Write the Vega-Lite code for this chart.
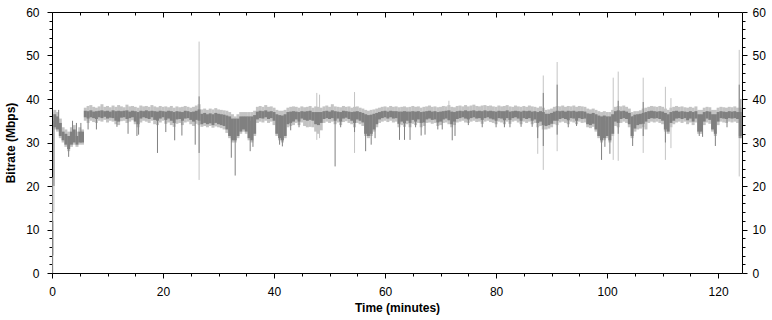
{
  "$schema": "https://vega.github.io/schema/vega-lite/v6.json",
  "width": 690,
  "height": 261,
  "autosize": {"type": "none"},
  "padding": {"left": 52, "top": 12, "right": 30, "bottom": 47},
  "background": "white",
  "config": {
    "view": {"stroke": null},
    "axis": {
      "grid": false,
      "domainColor": "black",
      "tickColor": "black",
      "labelColor": "black",
      "titleColor": "black",
      "labelFont": "Liberation Sans",
      "labelFontSize": 12,
      "titleFont": "Liberation Sans",
      "titleFontSize": 12,
      "titleFontWeight": "bold",
      "labelFlush": false,
      "labelOverlap": false
    }
  },
  "datasets": {
    "bands": [
      {"t":0.5,"a":33,"b":37.5,"c":33.5,"d":36.5},
      {"t":1.0,"a":32.5,"b":37,"c":33,"d":36},
      {"t":1.5,"a":31,"b":35.5,"c":31.5,"d":34.5},
      {"t":2.0,"a":30,"b":33.5,"c":30.5,"d":32.5},
      {"t":2.5,"a":29,"b":33,"c":29.5,"d":32},
      {"t":3.0,"a":28,"b":32.5,"c":28.5,"d":31.5},
      {"t":3.5,"a":29,"b":33.5,"c":29.5,"d":32.5},
      {"t":4.0,"a":29.5,"b":34,"c":30,"d":33},
      {"t":4.5,"a":29,"b":32.5,"c":29.5,"d":31.5},
      {"t":5.0,"a":29.5,"b":33.5,"c":30,"d":32.5},
      {"t":5.5,"a":29.5,"b":33,"c":30,"d":32.5},
      {"t":6.0,"a":35,"b":38,"c":35.8,"d":37.3},
      {"t":6.5,"a":34.5,"b":38.4,"c":35.5,"d":37.2},
      {"t":7.0,"a":35,"b":38.6,"c":35.8,"d":37.4},
      {"t":7.5,"a":34.7,"b":38.2,"c":35.6,"d":37.1},
      {"t":8.0,"a":34.5,"b":38,"c":35.4,"d":37.2},
      {"t":8.5,"a":35,"b":38.3,"c":35.8,"d":37.3},
      {"t":9.0,"a":34.8,"b":38.8,"c":35.6,"d":37.4},
      {"t":9.5,"a":35.2,"b":38.2,"c":35.9,"d":37.2},
      {"t":10.0,"a":34.6,"b":38.4,"c":35.5,"d":37.3},
      {"t":10.5,"a":35,"b":38.1,"c":35.7,"d":37.1},
      {"t":11.0,"a":34.8,"b":38.5,"c":35.6,"d":37.4},
      {"t":11.5,"a":34.2,"b":38.2,"c":35,"d":37.2},
      {"t":12.0,"a":34,"b":38.6,"c":34.8,"d":37.3},
      {"t":12.5,"a":34.9,"b":38.3,"c":35.7,"d":37.2},
      {"t":13.0,"a":35,"b":38.1,"c":35.8,"d":37.3},
      {"t":13.5,"a":34.5,"b":38.7,"c":35.4,"d":37.4},
      {"t":14.0,"a":34.8,"b":38.3,"c":35.6,"d":37.1},
      {"t":14.5,"a":35.1,"b":38.4,"c":35.8,"d":37.3},
      {"t":15.0,"a":34.2,"b":38.2,"c":34.8,"d":37.2},
      {"t":15.5,"a":33.5,"b":38,"c":34.2,"d":37},
      {"t":16.0,"a":34.6,"b":38.5,"c":35.5,"d":37.3},
      {"t":16.5,"a":35,"b":38.3,"c":35.8,"d":37.2},
      {"t":17.0,"a":34.8,"b":38.4,"c":35.6,"d":37.4},
      {"t":17.5,"a":34.5,"b":38.2,"c":35.4,"d":37.2},
      {"t":18.0,"a":35,"b":38.6,"c":35.8,"d":37.3},
      {"t":18.5,"a":34.2,"b":38.3,"c":35.2,"d":37.2},
      {"t":19.0,"a":34,"b":38.1,"c":35,"d":37.1},
      {"t":19.5,"a":34.6,"b":38.4,"c":35.5,"d":37.3},
      {"t":20.0,"a":35,"b":38.2,"c":35.8,"d":37.2},
      {"t":20.5,"a":34.3,"b":38.3,"c":35.2,"d":37.1},
      {"t":21.0,"a":34.6,"b":38.1,"c":35.5,"d":37.3},
      {"t":21.5,"a":34,"b":38.4,"c":35,"d":37.2},
      {"t":22.0,"a":33.6,"b":38,"c":34.5,"d":37},
      {"t":22.5,"a":34.3,"b":38.3,"c":35.3,"d":37.2},
      {"t":23.0,"a":34.5,"b":38.1,"c":35.4,"d":37.1},
      {"t":23.5,"a":34,"b":38.2,"c":35,"d":37},
      {"t":24.0,"a":34.6,"b":38.4,"c":35.5,"d":37.3},
      {"t":24.5,"a":34.8,"b":38.2,"c":35.6,"d":37.2},
      {"t":25.0,"a":34.2,"b":38,"c":35.2,"d":37},
      {"t":25.5,"a":33.8,"b":38.2,"c":34.8,"d":37.1},
      {"t":26.0,"a":34.3,"b":38.5,"c":35.2,"d":37.3},
      {"t":26.5,"a":34,"b":38.8,"c":35,"d":37.6},
      {"t":27.0,"a":33.6,"b":37.6,"c":34.2,"d":36.6},
      {"t":27.5,"a":33.8,"b":37.8,"c":34.5,"d":36.8},
      {"t":28.0,"a":33.5,"b":37.5,"c":34.2,"d":36.5},
      {"t":28.5,"a":33.8,"b":37.8,"c":34.4,"d":36.7},
      {"t":29.0,"a":33.4,"b":37.6,"c":34,"d":36.5},
      {"t":29.5,"a":33.7,"b":37.9,"c":34.5,"d":36.8},
      {"t":30.0,"a":33.5,"b":37.6,"c":34.2,"d":36.6},
      {"t":30.5,"a":33.3,"b":37.5,"c":34,"d":36.5},
      {"t":31.0,"a":33,"b":37.4,"c":33.8,"d":36.4},
      {"t":31.5,"a":32.2,"b":37.3,"c":33,"d":36.2},
      {"t":32.0,"a":31,"b":37,"c":31.5,"d":36},
      {"t":32.5,"a":30,"b":36.5,"c":30.5,"d":35.5},
      {"t":33.0,"a":30,"b":36,"c":30.5,"d":35.5},
      {"t":33.5,"a":31,"b":36.5,"c":31.5,"d":35.5},
      {"t":34.0,"a":32,"b":37,"c":32.5,"d":36},
      {"t":34.5,"a":32.5,"b":37,"c":33,"d":36},
      {"t":35.0,"a":32,"b":37,"c":32.5,"d":36},
      {"t":35.5,"a":30.5,"b":37,"c":31,"d":36},
      {"t":36.0,"a":30,"b":37,"c":30.5,"d":36},
      {"t":36.5,"a":31.5,"b":37.3,"c":32,"d":36.3},
      {"t":37.0,"a":34.5,"b":38.2,"c":35.3,"d":37.1},
      {"t":37.5,"a":34.8,"b":38.4,"c":35.6,"d":37.3},
      {"t":38.0,"a":34.6,"b":38.2,"c":35.5,"d":37.2},
      {"t":38.5,"a":35,"b":38.6,"c":35.8,"d":37.4},
      {"t":39.0,"a":34.5,"b":38.2,"c":35.4,"d":37.1},
      {"t":39.5,"a":34.8,"b":38.3,"c":35.6,"d":37.2},
      {"t":40.0,"a":34,"b":38,"c":35,"d":37},
      {"t":40.5,"a":31.5,"b":37.5,"c":32,"d":36.5},
      {"t":41.0,"a":30.5,"b":37.3,"c":31,"d":36.3},
      {"t":41.5,"a":30,"b":37.3,"c":30.5,"d":36.2},
      {"t":42.0,"a":31,"b":37.5,"c":31.5,"d":36.5},
      {"t":42.5,"a":33.5,"b":38,"c":34.2,"d":37},
      {"t":43.0,"a":33.8,"b":38.2,"c":34.5,"d":37.1},
      {"t":43.5,"a":34,"b":38.3,"c":34.8,"d":37.2},
      {"t":44.0,"a":34.5,"b":38.2,"c":35.3,"d":37.1},
      {"t":44.5,"a":34,"b":38,"c":34.8,"d":37},
      {"t":45.0,"a":34.6,"b":38.3,"c":35.5,"d":37.2},
      {"t":45.5,"a":33.8,"b":38.1,"c":35.2,"d":37.1},
      {"t":46.0,"a":33.5,"b":38.2,"c":35,"d":37.2},
      {"t":46.5,"a":33.6,"b":38.4,"c":35.2,"d":37.3},
      {"t":47.0,"a":33.5,"b":38,"c":35,"d":37},
      {"t":47.5,"a":32.5,"b":38.3,"c":34.2,"d":37},
      {"t":48.0,"a":32,"b":38.2,"c":34,"d":37},
      {"t":48.5,"a":32.8,"b":38,"c":34.5,"d":37},
      {"t":49.0,"a":34.5,"b":38.3,"c":35.4,"d":37.2},
      {"t":49.5,"a":34.8,"b":38.5,"c":35.6,"d":37.3},
      {"t":50.0,"a":34.5,"b":38.2,"c":35.4,"d":37.1},
      {"t":50.5,"a":34.8,"b":38.8,"c":35.6,"d":37.4},
      {"t":51.0,"a":34.2,"b":38.3,"c":35,"d":37.2},
      {"t":51.5,"a":34.6,"b":38.2,"c":35.5,"d":37.1},
      {"t":52.0,"a":34,"b":38.1,"c":34.8,"d":37},
      {"t":52.5,"a":34.7,"b":38.4,"c":35.5,"d":37.3},
      {"t":53.0,"a":34.9,"b":38.2,"c":35.7,"d":37.2},
      {"t":53.5,"a":34.5,"b":38.3,"c":35.4,"d":37.1},
      {"t":54.0,"a":34.2,"b":38,"c":35,"d":37},
      {"t":54.5,"a":33.5,"b":38.2,"c":34.5,"d":37.1},
      {"t":55.0,"a":34.5,"b":38.3,"c":35.3,"d":37.2},
      {"t":55.5,"a":34.2,"b":38,"c":35,"d":37},
      {"t":56.0,"a":33.8,"b":37.8,"c":34.6,"d":36.8},
      {"t":56.5,"a":31.5,"b":37.5,"c":32,"d":36.5},
      {"t":57.0,"a":31,"b":37.3,"c":31.5,"d":36.3},
      {"t":57.5,"a":31.5,"b":37.5,"c":32,"d":36.4},
      {"t":58.0,"a":32.5,"b":37.6,"c":33,"d":36.6},
      {"t":58.5,"a":33.5,"b":37.8,"c":34.2,"d":36.8},
      {"t":59.0,"a":34.5,"b":38,"c":35.3,"d":37},
      {"t":59.5,"a":34.8,"b":38.2,"c":35.6,"d":37.2},
      {"t":60.0,"a":35,"b":38.3,"c":35.8,"d":37.3},
      {"t":60.5,"a":34.7,"b":38.1,"c":35.5,"d":37.1},
      {"t":61.0,"a":35,"b":38.4,"c":35.8,"d":37.3},
      {"t":61.5,"a":34.6,"b":38.2,"c":35.5,"d":37.2},
      {"t":62.0,"a":34.8,"b":38.3,"c":35.6,"d":37.2},
      {"t":62.5,"a":33.5,"b":38.1,"c":34.3,"d":37.1},
      {"t":63.0,"a":34,"b":38.2,"c":34.8,"d":37.1},
      {"t":63.5,"a":33.6,"b":38.3,"c":34.4,"d":37.2},
      {"t":64.0,"a":34.2,"b":38.1,"c":35,"d":37.1},
      {"t":64.5,"a":33.5,"b":38.2,"c":34.5,"d":37.1},
      {"t":65.0,"a":34.3,"b":38.4,"c":35.2,"d":37.2},
      {"t":65.5,"a":34,"b":38.2,"c":34.8,"d":37.1},
      {"t":66.0,"a":34.5,"b":38.3,"c":35.3,"d":37.2},
      {"t":66.5,"a":33.5,"b":38,"c":34.5,"d":37},
      {"t":67.0,"a":33.8,"b":38.2,"c":34.6,"d":37.1},
      {"t":67.5,"a":34.5,"b":38.3,"c":35.3,"d":37.2},
      {"t":68.0,"a":34.6,"b":38.5,"c":35.5,"d":37.3},
      {"t":68.5,"a":34.3,"b":38.2,"c":35.2,"d":37.1},
      {"t":69.0,"a":34.5,"b":38.3,"c":35.3,"d":37.2},
      {"t":69.5,"a":33.8,"b":38.1,"c":34.6,"d":37},
      {"t":70.0,"a":34,"b":38.2,"c":34.8,"d":37.1},
      {"t":70.5,"a":34.5,"b":38.4,"c":35.3,"d":37.2},
      {"t":71.0,"a":34.6,"b":38.3,"c":35.5,"d":37.3},
      {"t":71.5,"a":34.2,"b":38.6,"c":35.1,"d":37.4},
      {"t":72.0,"a":33.5,"b":38.2,"c":34.2,"d":37.1},
      {"t":72.5,"a":34,"b":38.1,"c":34.8,"d":37},
      {"t":73.0,"a":34.6,"b":38.4,"c":35.4,"d":37.2},
      {"t":73.5,"a":34.8,"b":38.5,"c":35.6,"d":37.3},
      {"t":74.0,"a":35,"b":38.3,"c":35.8,"d":37.2},
      {"t":74.5,"a":34.6,"b":38.6,"c":35.5,"d":37.4},
      {"t":75.0,"a":34.5,"b":38.3,"c":35.3,"d":37.2},
      {"t":75.5,"a":34.8,"b":38.5,"c":35.6,"d":37.3},
      {"t":76.0,"a":35,"b":38.7,"c":35.8,"d":37.4},
      {"t":76.5,"a":34.7,"b":38.4,"c":35.5,"d":37.2},
      {"t":77.0,"a":34.8,"b":38.3,"c":35.6,"d":37.3},
      {"t":77.5,"a":34.3,"b":38.5,"c":35.2,"d":37.2},
      {"t":78.0,"a":34.8,"b":38.6,"c":35.6,"d":37.4},
      {"t":78.5,"a":35,"b":38.4,"c":35.8,"d":37.2},
      {"t":79.0,"a":34.7,"b":38.5,"c":35.5,"d":37.3},
      {"t":79.5,"a":34.5,"b":38.3,"c":35.3,"d":37.2},
      {"t":80.0,"a":34.2,"b":38.2,"c":35,"d":37.1},
      {"t":80.5,"a":34.8,"b":38.5,"c":35.6,"d":37.3},
      {"t":81.0,"a":34.6,"b":38.3,"c":35.5,"d":37.2},
      {"t":81.5,"a":34.2,"b":38.4,"c":35.1,"d":37.2},
      {"t":82.0,"a":34.8,"b":38.6,"c":35.6,"d":37.4},
      {"t":82.5,"a":34.3,"b":38.3,"c":35.2,"d":37.1},
      {"t":83.0,"a":34.8,"b":38.2,"c":35.6,"d":37.2},
      {"t":83.5,"a":35,"b":38.5,"c":35.8,"d":37.3},
      {"t":84.0,"a":34.6,"b":38.3,"c":35.5,"d":37.2},
      {"t":84.5,"a":34.2,"b":38.2,"c":35,"d":37.1},
      {"t":85.0,"a":34.8,"b":38.4,"c":35.6,"d":37.3},
      {"t":85.5,"a":34.5,"b":38.2,"c":35.4,"d":37.2},
      {"t":86.0,"a":34.8,"b":38.5,"c":35.6,"d":37.3},
      {"t":86.5,"a":34.2,"b":38.3,"c":35,"d":37.1},
      {"t":87.0,"a":34.5,"b":38.2,"c":35.3,"d":37.2},
      {"t":87.5,"a":33.5,"b":38,"c":34.5,"d":37},
      {"t":88.0,"a":33.8,"b":38.3,"c":34.8,"d":37.2},
      {"t":88.5,"a":33,"b":38,"c":34,"d":37},
      {"t":89.0,"a":33,"b":37.5,"c":33.8,"d":36.6},
      {"t":89.5,"a":33.2,"b":37.6,"c":34,"d":36.6},
      {"t":90.0,"a":33.5,"b":37.8,"c":34.3,"d":36.8},
      {"t":90.5,"a":34.2,"b":38.2,"c":35,"d":37.1},
      {"t":91.0,"a":34,"b":38.4,"c":35,"d":37.3},
      {"t":91.5,"a":34.6,"b":38.3,"c":35.4,"d":37.2},
      {"t":92.0,"a":34.8,"b":38.5,"c":35.6,"d":37.3},
      {"t":92.5,"a":34.5,"b":38.2,"c":35.4,"d":37.1},
      {"t":93.0,"a":34.2,"b":38.4,"c":35.1,"d":37.3},
      {"t":93.5,"a":34.8,"b":38.3,"c":35.6,"d":37.2},
      {"t":94.0,"a":34.6,"b":38.5,"c":35.5,"d":37.3},
      {"t":94.5,"a":34.2,"b":38.2,"c":35,"d":37.1},
      {"t":95.0,"a":34.8,"b":38.4,"c":35.6,"d":37.2},
      {"t":95.5,"a":34.5,"b":38.3,"c":35.4,"d":37.2},
      {"t":96.0,"a":34.6,"b":38.2,"c":35.5,"d":37.1},
      {"t":96.5,"a":33.5,"b":37.8,"c":34.2,"d":36.7},
      {"t":97.0,"a":33.3,"b":37.6,"c":34,"d":36.6},
      {"t":97.5,"a":33.6,"b":37.8,"c":34.3,"d":36.8},
      {"t":98.0,"a":32.5,"b":37.5,"c":33,"d":36.5},
      {"t":98.5,"a":31,"b":37.2,"c":31.5,"d":36.2},
      {"t":99.0,"a":30,"b":37,"c":30.5,"d":36},
      {"t":99.5,"a":30.5,"b":37.2,"c":31,"d":36.2},
      {"t":100.0,"a":31,"b":37,"c":31.5,"d":36},
      {"t":100.5,"a":30,"b":37,"c":30.5,"d":36},
      {"t":101.0,"a":31.5,"b":37.5,"c":32,"d":36.5},
      {"t":101.5,"a":33.8,"b":38.2,"c":34.8,"d":37.2},
      {"t":102.0,"a":33.5,"b":38.4,"c":34.5,"d":37.4},
      {"t":102.5,"a":34.5,"b":38.3,"c":35.4,"d":37.2},
      {"t":103.0,"a":34.8,"b":38.5,"c":35.6,"d":37.3},
      {"t":103.5,"a":34.5,"b":38.2,"c":35.4,"d":37.1},
      {"t":104.0,"a":33.5,"b":37.8,"c":34.2,"d":36.8},
      {"t":104.5,"a":31,"b":37,"c":31.5,"d":36},
      {"t":105.0,"a":32.5,"b":37.2,"c":33.2,"d":36.4},
      {"t":105.5,"a":33,"b":37.2,"c":34,"d":36.5},
      {"t":106.0,"a":33.2,"b":37.4,"c":34.2,"d":36.6},
      {"t":106.5,"a":33.5,"b":37.8,"c":34.3,"d":36.8},
      {"t":107.0,"a":33,"b":38,"c":34.8,"d":37},
      {"t":107.5,"a":34.5,"b":38.2,"c":35.4,"d":37.2},
      {"t":108.0,"a":34.8,"b":38.4,"c":35.6,"d":37.3},
      {"t":108.5,"a":34.6,"b":38.3,"c":35.5,"d":37.2},
      {"t":109.0,"a":34.8,"b":38.2,"c":35.6,"d":37.1},
      {"t":109.5,"a":34.5,"b":38.4,"c":35.4,"d":37.2},
      {"t":110.0,"a":34.2,"b":38.2,"c":35,"d":37.1},
      {"t":110.5,"a":32.5,"b":37.8,"c":33,"d":36.8},
      {"t":111.0,"a":32,"b":37.5,"c":32.5,"d":36.5},
      {"t":111.5,"a":33.5,"b":38,"c":34.5,"d":37},
      {"t":112.0,"a":34.2,"b":38.2,"c":35,"d":37.2},
      {"t":112.5,"a":34.6,"b":38.4,"c":35.5,"d":37.3},
      {"t":113.0,"a":34.8,"b":38.2,"c":35.6,"d":37.1},
      {"t":113.5,"a":34.5,"b":38.3,"c":35.4,"d":37.2},
      {"t":114.0,"a":34.8,"b":38.1,"c":35.6,"d":37.1},
      {"t":114.5,"a":34.2,"b":38,"c":35.1,"d":37},
      {"t":115.0,"a":34.6,"b":38.2,"c":35.5,"d":37.2},
      {"t":115.5,"a":34,"b":38,"c":34.8,"d":37},
      {"t":116.0,"a":34.6,"b":38.3,"c":35.5,"d":37.2},
      {"t":116.5,"a":32,"b":37.5,"c":32.5,"d":36.5},
      {"t":117.0,"a":32,"b":37.5,"c":32.5,"d":36.5},
      {"t":117.5,"a":34,"b":38,"c":34.8,"d":37},
      {"t":118.0,"a":34.6,"b":38.2,"c":35.5,"d":37.2},
      {"t":118.5,"a":34.3,"b":38.1,"c":35.2,"d":37.1},
      {"t":119.0,"a":32.5,"b":37.5,"c":33,"d":36.5},
      {"t":119.5,"a":31.5,"b":37.5,"c":32,"d":36.5},
      {"t":120.0,"a":34,"b":38,"c":34.8,"d":37},
      {"t":120.5,"a":34.8,"b":38.2,"c":35.6,"d":37.2},
      {"t":121.0,"a":34.6,"b":38.1,"c":35.5,"d":37.1},
      {"t":121.5,"a":34.5,"b":38,"c":35.4,"d":37},
      {"t":122.0,"a":34.8,"b":38.2,"c":35.6,"d":37.2},
      {"t":122.5,"a":34.6,"b":38.1,"c":35.5,"d":37.1},
      {"t":123.0,"a":34.8,"b":38.3,"c":35.6,"d":37.2},
      {"t":123.5,"a":34.5,"b":38,"c":35.4,"d":37},
      {"t":124.0,"a":31,"b":38,"c":31.5,"d":37}
    ],
    "spikes": [
      {"t":0.15,"lo":0,"hi":22,"k":"L"},
      {"t":0.15,"lo":4,"hi":12,"k":"D"},
      {"t":0.35,"lo":14,"hi":37,"k":"L"},
      {"t":0.35,"lo":20,"hi":35,"k":"D"},
      {"t":1.2,"lo":34,"hi":37.5,"k":"D"},
      {"t":3.0,"lo":26.7,"hi":31,"k":"D"},
      {"t":3.7,"lo":30,"hi":35,"k":"D"},
      {"t":4.4,"lo":30,"hi":34.5,"k":"D"},
      {"t":5.2,"lo":30,"hi":34.5,"k":"D"},
      {"t":6.5,"lo":33,"hi":36,"k":"D"},
      {"t":8.0,"lo":33,"hi":36,"k":"D"},
      {"t":11.7,"lo":33.6,"hi":36,"k":"D"},
      {"t":13.7,"lo":32,"hi":36,"k":"D"},
      {"t":15.3,"lo":31.5,"hi":36,"k":"D"},
      {"t":15.6,"lo":31.8,"hi":36,"k":"D"},
      {"t":19.0,"lo":27.6,"hi":36,"k":"D"},
      {"t":20.5,"lo":32.4,"hi":36,"k":"D"},
      {"t":22.1,"lo":30.5,"hi":36,"k":"D"},
      {"t":23.4,"lo":31.6,"hi":36,"k":"D"},
      {"t":25.8,"lo":29.5,"hi":36,"k":"D"},
      {"t":26.5,"lo":21.4,"hi":53.2,"k":"L"},
      {"t":26.5,"lo":27.6,"hi":40.6,"k":"D"},
      {"t":32.3,"lo":26.5,"hi":35,"k":"D"},
      {"t":33.0,"lo":22.4,"hi":35,"k":"D"},
      {"t":35.7,"lo":28,"hi":35,"k":"D"},
      {"t":36.2,"lo":29,"hi":35,"k":"D"},
      {"t":41.0,"lo":29.5,"hi":36,"k":"D"},
      {"t":41.5,"lo":29.1,"hi":36,"k":"D"},
      {"t":43.0,"lo":32.8,"hi":36,"k":"D"},
      {"t":44.5,"lo":33.5,"hi":36,"k":"D"},
      {"t":47.7,"lo":30.6,"hi":41.4,"k":"L"},
      {"t":48.2,"lo":31,"hi":41,"k":"L"},
      {"t":51.0,"lo":24.5,"hi":36,"k":"D"},
      {"t":52.0,"lo":33.5,"hi":36,"k":"D"},
      {"t":54.5,"lo":27.6,"hi":41.6,"k":"L"},
      {"t":54.5,"lo":32.4,"hi":36,"k":"D"},
      {"t":56.5,"lo":28,"hi":36,"k":"D"},
      {"t":57.5,"lo":29.5,"hi":36,"k":"D"},
      {"t":58.2,"lo":31,"hi":36,"k":"D"},
      {"t":62.6,"lo":30.6,"hi":36,"k":"D"},
      {"t":63.5,"lo":30.6,"hi":36,"k":"D"},
      {"t":64.5,"lo":30.6,"hi":36,"k":"D"},
      {"t":65.5,"lo":33.5,"hi":36,"k":"D"},
      {"t":66.5,"lo":31.6,"hi":36,"k":"D"},
      {"t":67.2,"lo":31.8,"hi":36,"k":"D"},
      {"t":69.5,"lo":33,"hi":36,"k":"D"},
      {"t":70.3,"lo":33,"hi":36,"k":"D"},
      {"t":71.5,"lo":35,"hi":39.6,"k":"L"},
      {"t":72.1,"lo":30.5,"hi":36,"k":"D"},
      {"t":72.6,"lo":31.5,"hi":36,"k":"D"},
      {"t":75.0,"lo":34,"hi":36,"k":"D"},
      {"t":77.5,"lo":33.5,"hi":36,"k":"D"},
      {"t":80.0,"lo":33.5,"hi":36,"k":"D"},
      {"t":81.5,"lo":33.5,"hi":36,"k":"D"},
      {"t":82.5,"lo":33.5,"hi":36,"k":"D"},
      {"t":84.5,"lo":33.6,"hi":36,"k":"D"},
      {"t":86.5,"lo":33.6,"hi":36,"k":"D"},
      {"t":87.5,"lo":27.4,"hi":36,"k":"L"},
      {"t":87.5,"lo":31,"hi":36,"k":"D"},
      {"t":88.5,"lo":23.7,"hi":45.4,"k":"L"},
      {"t":88.5,"lo":29.2,"hi":41.4,"k":"D"},
      {"t":91.0,"lo":28,"hi":48.5,"k":"L"},
      {"t":91.0,"lo":31.8,"hi":43.3,"k":"D"},
      {"t":93.0,"lo":33.5,"hi":36,"k":"D"},
      {"t":94.5,"lo":33.8,"hi":36,"k":"D"},
      {"t":99.0,"lo":26,"hi":35,"k":"D"},
      {"t":99.6,"lo":29,"hi":35,"k":"D"},
      {"t":100.5,"lo":27.4,"hi":35,"k":"D"},
      {"t":101.1,"lo":26,"hi":44.9,"k":"L"},
      {"t":102.0,"lo":25.8,"hi":46.3,"k":"L"},
      {"t":102.0,"lo":32,"hi":39.6,"k":"D"},
      {"t":104.6,"lo":29.2,"hi":36,"k":"D"},
      {"t":106.5,"lo":27.6,"hi":44.9,"k":"L"},
      {"t":106.5,"lo":31.5,"hi":39.3,"k":"D"},
      {"t":110.5,"lo":26,"hi":42.8,"k":"L"},
      {"t":110.5,"lo":30,"hi":36,"k":"D"},
      {"t":111.5,"lo":28.7,"hi":40.2,"k":"L"},
      {"t":116.6,"lo":31.5,"hi":36,"k":"D"},
      {"t":117.2,"lo":31.3,"hi":36,"k":"D"},
      {"t":119.5,"lo":29.2,"hi":36,"k":"D"},
      {"t":121.6,"lo":33.5,"hi":36,"k":"D"},
      {"t":123.8,"lo":22.2,"hi":51.3,"k":"L"},
      {"t":123.8,"lo":31,"hi":43.3,"k":"D"},
      {"t":124.1,"lo":31,"hi":40,"k":"D"}
    ]
  },
  "resolve": {"axis": {"x": "independent", "y": "independent"}},
  "layer": [
    {
      "data": {"name": "bands"},
      "mark": {"type": "rule", "color": "#c4c4c4", "strokeWidth": 3, "clip": true},
      "encoding": {
        "x": {"field": "t", "type": "quantitative", "scale": {"domain": [0, 124.3], "nice": false, "zero": false},
              "axis": {"orient": "bottom", "values": [0, 20, 40, 60, 80, 100, 120], "title": "Time (minutes)", "tickSize": 5, "labelPadding": 8, "titlePadding": 5}},
        "y": {"field": "a", "type": "quantitative", "scale": {"domain": [0, 60], "nice": false},
              "axis": {"orient": "left", "values": [0, 10, 20, 30, 40, 50, 60], "title": "Bitrate (Mbps)", "tickSize": 5, "labelPadding": 8, "titlePadding": 8}},
        "y2": {"field": "b"}
      }
    },
    {
      "data": {"name": "spikes"},
      "transform": [{"filter": "datum.k === 'L'"}],
      "mark": {"type": "rule", "color": "#c4c4c4", "strokeWidth": 1, "clip": true},
      "encoding": {
        "x": {"field": "t", "type": "quantitative",
              "axis": {"orient": "bottom", "values": [5, 10, 15, 25, 30, 35, 45, 50, 55, 65, 70, 75, 85, 90, 95, 105, 110, 115], "labels": false, "title": null, "tickSize": 3, "domain": false}},
        "y": {"field": "lo", "type": "quantitative",
              "axis": {"orient": "left", "values": [2, 4, 6, 8, 12, 14, 16, 18, 22, 24, 26, 28, 32, 34, 36, 38, 42, 44, 46, 48, 52, 54, 56, 58], "labels": false, "title": null, "tickSize": 3, "domain": false}},
        "y2": {"field": "hi"}
      }
    },
    {
      "data": {"name": "bands"},
      "mark": {"type": "rule", "color": "#808080", "strokeWidth": 3, "clip": true},
      "encoding": {
        "x": {"field": "t", "type": "quantitative",
              "axis": {"orient": "top", "values": [0, 20, 40, 60, 80, 100, 120], "labels": false, "title": null, "tickSize": -5}},
        "y": {"field": "c", "type": "quantitative",
              "axis": {"orient": "right", "values": [0, 10, 20, 30, 40, 50, 60], "title": null, "tickSize": 5, "labelPadding": 5}},
        "y2": {"field": "d"}
      }
    },
    {
      "data": {"name": "spikes"},
      "transform": [{"filter": "datum.k === 'D'"}],
      "mark": {"type": "rule", "color": "#808080", "strokeWidth": 1, "clip": true},
      "encoding": {
        "x": {"field": "t", "type": "quantitative",
              "axis": {"orient": "top", "values": [5, 10, 15, 25, 30, 35, 45, 50, 55, 65, 70, 75, 85, 90, 95, 105, 110, 115], "labels": false, "title": null, "tickSize": -3, "domain": false}},
        "y": {"field": "lo", "type": "quantitative",
              "axis": {"orient": "right", "values": [2, 4, 6, 8, 12, 14, 16, 18, 22, 24, 26, 28, 32, 34, 36, 38, 42, 44, 46, 48, 52, 54, 56, 58], "labels": false, "title": null, "tickSize": 3, "domain": false}},
        "y2": {"field": "hi"}
      }
    }
  ]
}
